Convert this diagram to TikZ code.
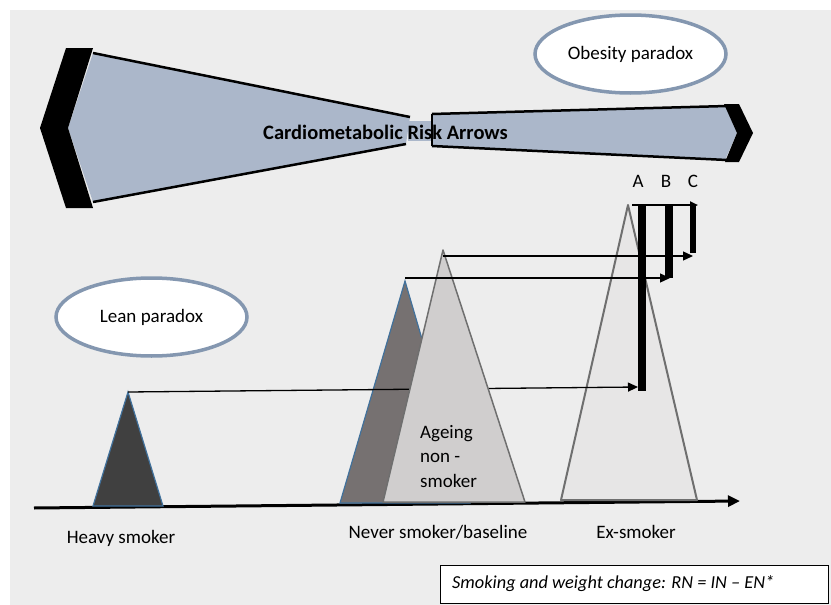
\documentclass[tikz,border=0pt]{standalone}
\usepackage{fontspec}
\setmainfont{Carlito}
\usetikzlibrary{arrows.meta,shapes.geometric}
\definecolor{bg}{HTML}{EDEDED}
\definecolor{arrowfill}{HTML}{ABB7CA}
\definecolor{ellblue}{HTML}{8497B0}
\definecolor{heavyfill}{HTML}{404040}
\definecolor{neverfill}{HTML}{767171}
\definecolor{agefill}{HTML}{D0CECE}
\definecolor{exfill}{HTML}{E7E6E6}
\definecolor{triblue}{HTML}{41719C}
\definecolor{greyedge}{HTML}{6F6F6F}
\tikzset{
  lbl/.style={font=\fontsize{19}{23}\selectfont, inner sep=0pt, anchor=base},
  paradox/.style={ellipse, draw=ellblue, line width=3.5pt, fill=white, minimum width=191pt, minimum height=78pt, inner sep=0pt, font=\fontsize{19}{23}\selectfont},
  edgeline/.style={line width=2.5pt, black},
  hline/.style={line width=1.3pt, -{Triangle[length=10pt,width=9pt]}},
  bar/.style={line width=7.5pt, line cap=butt},
}
\begin{document}
\begin{tikzpicture}[x=1pt,y=-1pt]
\useasboundingbox (0,0) rectangle (831,605);
\fill[bg] (10,10) rectangle (831,605);

% left risk arrow
\fill[arrowfill] (93,53) -- (410,117) -- (406,144) -- (93,202) -- (68,128) -- cycle;
\draw[edgeline] (93,53) -- (410,117);
\draw[edgeline] (93,202) -- (406,144);
\fill[black] (66,48) -- (93,48) -- (68,128) -- (93,208) -- (66,208) -- (40,128) -- cycle;
\fill[arrowfill] (408,121) rectangle (432,141);

% right risk arrow
\fill[arrowfill] (432,114) -- (727,106) -- (737,133) -- (725,160) -- (432,146) -- cycle;
\draw[edgeline] (432,114) -- (727,106);
\draw[edgeline] (432,146) -- (727,160);
\draw[line width=1.5pt] (432,114) -- (432,146);
\fill[black] (724,104) -- (739,104) -- (753,133) -- (739,162) -- (725,162) -- (737,133) -- cycle;

\node[lbl, font=\bfseries\fontsize{20.5}{24}\selectfont] (title) at (385.5,139) {Cardiometabolic Risk Arrows};

% ellipses
\node[paradox] (obesity) at (630.5,54) {Obesity paradox};
\node[paradox] (lean) at (151.5,317) {Lean paradox};

% axis
\coordinate (axL) at (34,508);
\coordinate (axR) at (740,501);
\draw[line width=3pt, -{Triangle[length=12pt,width=11pt]}] (axL) -- (axR);

% ex-smoker triangle
\coordinate (exA) at (628,205);
\filldraw[fill=exfill, draw=greyedge, line width=2pt, line join=round] (561,500) -- (exA) -- (697,500) -- cycle;

% heavy smoker triangle
\coordinate (hsA) at (128,392);
\filldraw[fill=heavyfill, draw=triblue, line width=1.2pt] (93,506) -- (hsA) -- (163,506) -- cycle;

% never smoker triangle
\coordinate (nsA) at (405,281);
\filldraw[fill=neverfill, draw=triblue, line width=1.2pt] (340,503) -- (nsA) -- (470,503) -- cycle;

% bar end points
\coordinate (aTop) at (642,205);
\coordinate (aBot) at (642,391);
\coordinate (bTop) at (669,205);
\coordinate (bBot) at (669,278);
\coordinate (cTop) at (693,205);
\coordinate (cBot) at (693,253);

% arrow from heavy smoker (behind ageing triangle)
\coordinate (t1) at (638,387);
\draw[hline] (hsA) -- (t1);

% ageing non-smoker triangle
\coordinate (agA) at (443,250);
\filldraw[fill=agefill, draw=greyedge, line width=1.5pt, line join=round] (383,502) -- (agA) -- (525,502) -- cycle;
\node[lbl, anchor=base west] (ag1) at (420,438) {Ageing};
\node[lbl, anchor=base west] (ag2) at (420,462.5) {non -};
\node[lbl, anchor=base west] (ag3) at (420,487) {smoker};

% arrows from never smoker and ageing apexes
\coordinate (t2) at (670,278);
\coordinate (t3) at (693,256);
\draw[hline] (nsA |- t2) -- (t2);
\draw[hline] (agA |- t3) -- (t3);

% bars
\draw[bar] (aTop) -- (aBot);
\draw[bar] (bTop) -- (bBot);
\draw[bar, line width=6.5pt] (cTop) -- (cBot);
\coordinate (topL) at (632,205);
\coordinate (topR) at (698,205);
\draw[line width=2pt, -{Triangle[length=8pt,width=7pt]}] (topL) -- (topR);

\node[lbl] (la) at (638,187) {A};
\node[lbl] (lb) at (666,187) {B};
\node[lbl] (lc) at (693,187) {C};

% labels
\node[lbl] (heavy) at (121,543) {Heavy smoker};
\node[lbl] (never) at (438,538) {Never smoker/baseline};
\node[lbl] (ex) at (636,538) {Ex-smoker};

% formula box
\draw[line width=1pt, fill=white] (440,565) rectangle (828,603);
\node[lbl, anchor=base west, font=\itshape\fontsize{18.3}{22}\selectfont] (formula) at (452,588) {Smoking and weight change: RN = IN – EN*};
\end{tikzpicture}
\end{document}
